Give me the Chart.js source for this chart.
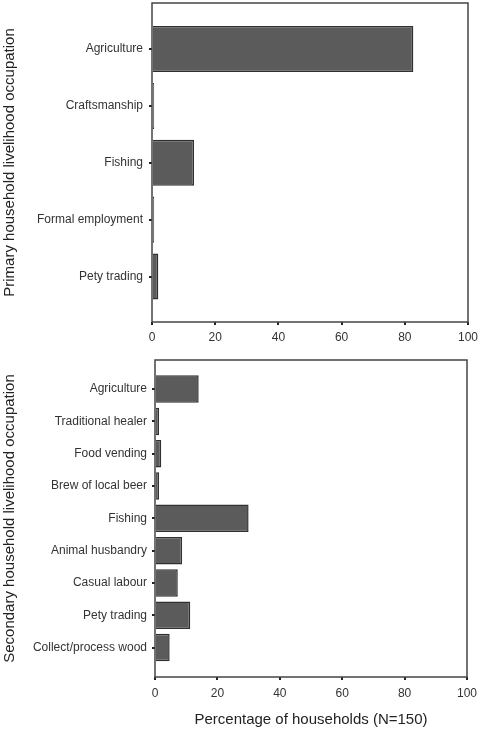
<!DOCTYPE html>
<html>

<head>
    <title>Household livelihood occupation</title>
    <style>
        body { margin: 0; background: #fff; }
        .box { position: absolute; left: 0; width: 480px; }
    </style>
</head>

<body>
    <div class="box" style="top:0;height:350px"><canvas id="primaryChart" width="480" height="350"></canvas></div>
    <div class="box" style="top:350px;height:379px"><canvas id="secondaryChart" width="480" height="379"></canvas></div>
    <script src="https://cdn.jsdelivr.net/npm/chart.js@4.4.1/dist/chart.umd.min.js"></script>
    <script type="text/javascript">
        // percentages of households (N=150)
        const primaryLabels = ['Agriculture', 'Craftsmanship', 'Fishing', 'Formal employment', 'Pety trading'];
        const primaryValues = [82.7, 0.7, 13.3, 0.7, 2.0];

        const secondaryLabels = ['Agriculture', 'Traditional healer', 'Food vending', 'Brew of local beer', 'Fishing',
            'Animal husbandry', 'Casual labour', 'Pety trading', 'Collect/process wood'];
        const secondaryValues = [14.0, 1.3, 2.0, 1.3, 30.0, 8.7, 7.3, 11.3, 4.7];

        const xTicks = [0, 20, 40, 60, 80, 100];

        const font = 'Arial, "Liberation Sans", sans-serif';

        // frame around the plot area
        const frame = {
            id: 'frame',
            afterDraw(chart) {
                const a = chart.chartArea;
                const ctx = chart.ctx;
                ctx.save();
                ctx.strokeStyle = '#444';
                ctx.lineWidth = 1.5;
                ctx.strokeRect(a.left, a.top, a.right - a.left, a.bottom - a.top);
                ctx.restore();
            }
        };

        function makechart(id, labels, values, opt) {
            const ctx = document.getElementById(id).getContext('2d');
            return new Chart(ctx, {
                type: 'bar',
                data: {
                    datasets: [{
                        data: values.map((v, i) => ({ x: v, y: i })),
                        backgroundColor: '#5b5b5b',
                        borderColor: '#303030',
                        borderWidth: 1.5,
                        barPercentage: opt.bar,
                        categoryPercentage: 1
                    }]
                },
                options: {
                    indexAxis: 'y',
                    responsive: false,
                    animation: false,
                    devicePixelRatio: 1,
                    layout: { padding: opt.padding },
                    plugins: { legend: { display: false }, tooltip: { enabled: false } },
                    scales: {
                        x: {
                            type: 'linear',
                            min: 0,
                            max: 100,
                            afterBuildTicks: s => { s.ticks = xTicks.map(v => ({ value: v })); },
                            afterFit: s => { s.height = opt.xHeight; s.paddingLeft = 0; s.paddingRight = 0; },
                            border: { display: false },
                            grid: { drawOnChartArea: false, drawTicks: true, tickLength: 3, lineWidth: 2, color: '#222' },
                            ticks: { color: '#333', padding: opt.xPad, font: { family: font, size: 12 } },
                            title: {
                                display: !!opt.xTitle,
                                text: opt.xTitle || '',
                                color: '#222',
                                padding: 0,
                                font: { family: font, size: 15 }
                            }
                        },
                        y: {
                            type: 'linear',
                            reverse: true,
                            offset: false,
                            min: opt.min,
                            max: opt.max,
                            afterBuildTicks: s => { s.ticks = labels.map((_, i) => ({ value: i })); },
                            afterFit: s => { s.width = opt.yWidth; s.paddingTop = 0; s.paddingBottom = 0; },
                            border: { display: false },
                            grid: { offset: false, drawOnChartArea: false, drawTicks: true, tickLength: 3, lineWidth: 2, color: '#222' },
                            ticks: {
                                autoSkip: false,
                                color: '#333',
                                padding: opt.yPad,
                                font: { family: font, size: 12 },
                                callback: v => labels[v]
                            },
                            title: {
                                display: true,
                                text: opt.yTitle,
                                color: '#222',
                                padding: { top: 1, bottom: 0 },
                                font: { family: font, size: 15 }
                            }
                        }
                    }
                },
                plugins: [frame]
            });
        }

        makechart('primaryChart', primaryLabels, primaryValues, {
            min: -0.81, max: 4.8, bar: 0.81,
            padding: { top: 3, right: 12, bottom: 0, left: 0 },
            xHeight: 28, yWidth: 152, xPad: 5, yPad: 6,
            yTitle: 'Primary household livelihood occupation'
        });

        makechart('secondaryChart', secondaryLabels, secondaryValues, {
            min: -0.9, max: 8.91, bar: 0.85,
            padding: { top: 10, right: 13, bottom: 0, left: 0 },
            xHeight: 52, yWidth: 155, xPad: 6, yPad: 5,
            yTitle: 'Secondary household livelihood occupation',
            xTitle: 'Percentage of households (N=150)'
        });
    </script>
</body>

</html>
